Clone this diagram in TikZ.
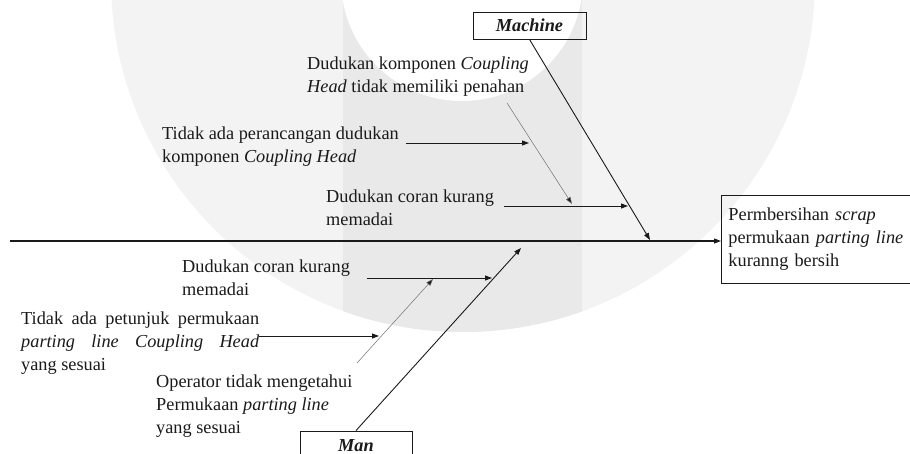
\documentclass[tikz,border=0pt]{standalone}
\usepackage{fontspec}
\setmainfont{Liberation Serif}
\usetikzlibrary{arrows.meta}
\definecolor{ringgray}{HTML}{F3F3F3}
\definecolor{bandgray}{HTML}{E9E9E9}
\definecolor{ink}{HTML}{1A1A1A}
\definecolor{thin}{HTML}{707070}
\begin{document}
\begin{tikzpicture}[x=1pt,y=-1pt,
  font=\fontsize{18.3}{23}\selectfont,
  txt/.style={anchor=base west, align=left, inner sep=0pt, text=ink},
  catbox/.style={draw=ink, line width=0.9pt, inner sep=0pt, text=ink,
    font=\fontsize{18.3}{23}\selectfont\bfseries\itshape},
  bone/.style={draw=ink, line width=0.9pt, -{Triangle[length=7pt,width=5pt]}},
  subarrow/.style={draw=ink, line width=0.9pt, -{Triangle[length=7pt,width=5pt]}},
  thinarrow/.style={draw=thin, line width=0.5pt, -{Triangle[length=7pt,width=5pt,fill=ink]}}]
\useasboundingbox (0,0) rectangle (910,454);
% watermark
\begin{scope}
  \fill[ringgray] (463,-20) circle (352);
  \clip (463,-20) circle (352);
  \fill[bandgray] (343,-40) rectangle (582,420);
\end{scope}
\fill[white] (462,-20) circle (121);

% effect
\node[draw=ink, line width=0.9pt, anchor=north west, minimum width=196pt, minimum height=88pt,
  text width=182pt, inner xsep=7pt, align=left, text=ink] (effect) at (721,195)
  {Permbersihan \textit{scrap}\\permukaan \textit{parting line}\\kuranng bersih};

% categories
\node[catbox, minimum width=113pt, minimum height=27pt] (machine) at (529.5,25.5) {Machine};
\node[catbox, minimum width=112pt, minimum height=30pt] (man) at (356,446) {Man};

% spine
\coordinate (s0) at (10,241);
\draw[draw=ink, line width=1.1pt, -{Triangle[length=7pt,width=5pt]}] (s0) -- (s0 -| effect.west);

% main bones
\coordinate (mtip) at (650,240);
\coordinate (ntip) at (521,248);
\draw[bone] (machine.south) -- (mtip);
\draw[bone] (man.north) -- (ntip);

% texts upper (base = baseline of last line)
\node[txt] (t1) at (307,93) {Dudukan komponen \textit{Coupling}\\\textit{Head} tidak memiliki penahan};
\node[txt] (t2) at (162,163) {Tidak ada perancangan dudukan\\komponen \textit{Coupling Head}};
\node[txt] (t3) at (326,226) {Dudukan coran kurang\\memadai};
% texts lower
\node[txt] (t4) at (182,295) {Dudukan coran kurang\\memadai};
\node[anchor=base west, inner sep=0pt, text width=238pt, align=justify, text=ink] (t5) at (21,324)
  {Tidak ada petunjuk permukaan\linebreak \textit{parting line Coupling Head}\linebreak yang sesuai};
\node[txt] (t6) at (156,433) {Operator tidak mengetahui\\Permukaan \textit{parting line}\\yang sesuai};

% sub arrows upper
\coordinate (a3s) at (504,206); \coordinate (a3e) at (628,206);
\coordinate (g1s) at (507,103); \coordinate (g1e) at (572,204);
\coordinate (a2s) at (406,143); \coordinate (a2e) at (529,143);
\draw[subarrow] (a3s) -- (a3e);
\draw[thinarrow] (g1s) -- (g1e);
\draw[subarrow] (a2s) -- (a2e);
% sub arrows lower
\coordinate (a4s) at (367,278); \coordinate (a4e) at (492,278);
\coordinate (g2s) at (357,363); \coordinate (g2e) at (433,279);
\coordinate (a5s) at (259,336); \coordinate (a5e) at (379,336);
\draw[subarrow] (a4s) -- (a4e);
\draw[thinarrow] (g2s) -- (g2e);
\draw[subarrow] (a5s) -- (a5e);
\end{tikzpicture}
\end{document}
